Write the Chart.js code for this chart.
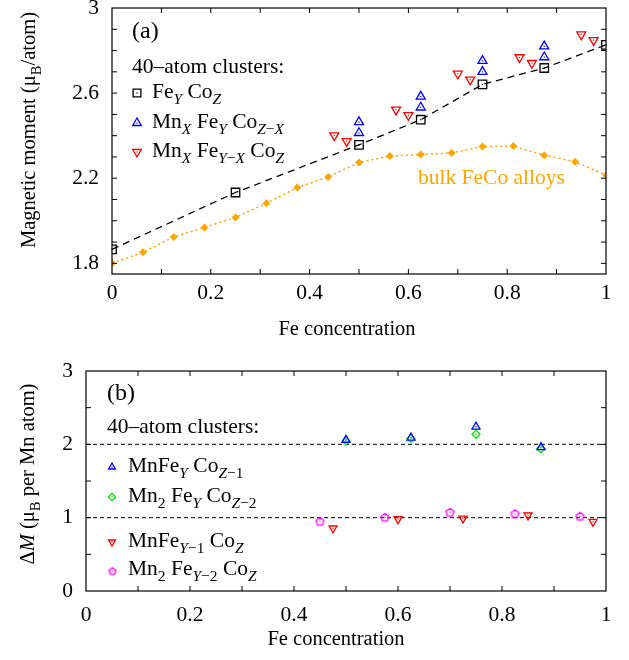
<!DOCTYPE html>
<html>
<head>
<meta charset="utf-8">
<script src="https://cdn.jsdelivr.net/npm/chart.js@4.4.0/dist/chart.umd.min.js"></script>
<style>
body { margin: 0; background: #fff; }
canvas { display: block; }
</style>
</head>
<body>
<canvas id="chartA" width="629" height="345"></canvas>
<canvas id="chartB" width="629" height="315"></canvas>
<script>
// ---- panel (a) data ----
var feCoX = [0, 0.25, 0.5, 0.625, 0.75, 0.875, 1];
var feCoY = [1.866, 2.133, 2.357, 2.475, 2.641, 2.718, 2.827];
var mnFeCoX = [0.5, 0.5, 0.625, 0.625, 0.75, 0.75, 0.875, 0.875];
var mnFeCoY = [2.464, 2.413, 2.584, 2.533, 2.752, 2.700, 2.820, 2.769];
var mnFeSubX = [0.45, 0.475, 0.575, 0.6, 0.7, 0.725, 0.825, 0.85, 0.95, 0.975];
var mnFeSubY = [2.401, 2.374, 2.522, 2.496, 2.691, 2.663, 2.768, 2.741, 2.876, 2.849];
var bulkX = [0, 0.0625, 0.125, 0.1875, 0.25, 0.3125, 0.375, 0.4375, 0.5, 0.5625, 0.625, 0.6875, 0.75, 0.8125, 0.875, 0.9375, 1];
var bulkY = [1.80, 1.852, 1.924, 1.969, 2.016, 2.082, 2.156, 2.206, 2.274, 2.304, 2.311, 2.319, 2.349, 2.351, 2.308, 2.278, 2.214];

// ---- panel (b) data ----
var mn1X = [0.5, 0.625, 0.75, 0.875];
var mn1Y = [2.06, 2.09, 2.24, 1.96];
var mn2X = [0.5, 0.625, 0.75, 0.875];
var mn2Y = [2.045, 2.08, 2.137, 1.94];
var mn1FeX = [0.475, 0.6, 0.725, 0.85, 0.975];
var mn1FeY = [0.855, 0.982, 0.991, 1.032, 0.945];
var mn2FeX = [0.45, 0.575, 0.7, 0.825, 0.95];
var mn2FeY = [0.945, 1.0, 1.068, 1.05, 1.014];
var refLevels = [1, 2];

// ---- ticks ----
var xTickLabels = [0, 0.2, 0.4, 0.6, 0.8, 1];
var xMinorTicks = [0.1, 0.2, 0.3, 0.4, 0.5, 0.6, 0.7, 0.8, 0.9];
var yTicksA = [1.8, 2.2, 2.6, 3];
var yMinorA = [1.8, 1.9, 2.0, 2.1, 2.2, 2.3, 2.4, 2.5, 2.6, 2.7, 2.8, 2.9];
var yTicksB = [0, 1, 2, 3];
var yMinorB = [0.5, 1, 1.5, 2, 2.5];

var FONT = '"Liberation Serif", "Times New Roman", serif';
var TXT = 21.5;

function pts(xs, ys) {
    return xs.map(function(x, i) { return {x: x, y: ys[i]}; });
}

function pentagon(r, color) {
    var c = document.createElement('canvas');
    c.width = c.height = Math.ceil(2 * r + 4);
    var g = c.getContext('2d');
    var cx = c.width / 2, cy = c.height / 2;
    g.strokeStyle = color;
    g.lineWidth = 1.3;
    g.beginPath();
    for (var i = 0; i < 5; i++) {
        var a = -Math.PI / 2 + i * 2 * Math.PI / 5;
        var px = cx + r * Math.cos(a), py = cy + r * Math.sin(a);
        if (i == 0) g.moveTo(px, py); else g.lineTo(px, py);
    }
    g.closePath();
    g.stroke();
    g.fillStyle = color;
    g.fillRect(cx - 0.6, cy - 0.6, 1.2, 1.2);
    return c;
}

// text with subscripts: flags 'i' italic, 's' subscript
function rich(ctx, segs, x, y, size, color, align) {
    var items = segs.map(function(s) {
        var f = s[1] || '';
        var sz = f.indexOf('s') >= 0 ? size * 0.72 : size;
        var font = (f.indexOf('i') >= 0 ? 'italic ' : '') + sz + 'px ' + FONT;
        ctx.font = font;
        return {t: s[0], font: font, dy: f.indexOf('s') >= 0 ? size * 0.28 : 0, w: ctx.measureText(s[0]).width};
    });
    var total = items.reduce(function(a, b) { return a + b.w; }, 0);
    var cx = align == 'center' ? x - total / 2 : x;
    ctx.fillStyle = color;
    ctx.textBaseline = 'alphabetic';
    ctx.textAlign = 'left';
    items.forEach(function(it) {
        ctx.font = it.font;
        ctx.fillText(it.t, cx, y + it.dy);
        cx += it.w;
    });
}

function marker(ctx, style, r, rot, color, x, y) {
    ctx.save();
    ctx.strokeStyle = color;
    ctx.fillStyle = 'rgba(0,0,0,0)';
    ctx.lineWidth = 1.3;
    Chart.helpers.drawPoint(ctx, {pointStyle: style, radius: r, rotation: rot, borderWidth: 1.3}, x, y);
    ctx.fillStyle = color;
    ctx.fillRect(x - 0.6, y - 0.6, 1.2, 1.2);
    ctx.restore();
}

function framePlugin(o) {
    return {
        id: 'frame',
        afterDatasetsDraw: function(chart) {
            var ctx = chart.ctx, a = chart.chartArea;
            var xs = chart.scales.x, ys = chart.scales.y;
            ctx.save();
            // center dots of open markers
            chart.data.datasets.forEach(function(ds, i) {
                if (!ds.dot) return;
                ctx.fillStyle = ds.borderColor;
                chart.getDatasetMeta(i).data.forEach(function(el) {
                    ctx.fillRect(el.x - 0.6, el.y - 0.6, 1.2, 1.2);
                });
            });
            ctx.strokeStyle = '#000';
            ctx.lineWidth = 1.2;
            ctx.strokeRect(a.left, a.top, a.right - a.left, a.bottom - a.top);
            ctx.beginPath();
            o.xTicks.forEach(function(v) {
                var p = xs.getPixelForValue(v);
                ctx.moveTo(p, a.bottom); ctx.lineTo(p, a.bottom - 5);
                ctx.moveTo(p, a.top); ctx.lineTo(p, a.top + 5);
            });
            o.yTicks.forEach(function(v) {
                var p = ys.getPixelForValue(v);
                ctx.moveTo(a.left, p); ctx.lineTo(a.left + 5, p);
                ctx.moveTo(a.right, p); ctx.lineTo(a.right - 5, p);
            });
            ctx.lineWidth = 1;
            ctx.stroke();
            ctx.restore();
            o.draw(ctx, chart);
        }
    };
}

function options(c) {
    return {
        responsive: false,
        animation: false,
        layout: {padding: {left: 0, right: 23, top: c.top, bottom: 0}},
        plugins: {legend: {display: false}, tooltip: {enabled: false}},
        scales: {
            x: {
                type: 'linear', min: 0, max: 1,
                grid: {display: false, drawTicks: false},
                border: {display: false},
                afterBuildTicks: function(s) { s.ticks = xTickLabels.map(function(v) { return {value: v}; }); },
                afterFit: function(s) { s.height = c.xh; s.paddingLeft = 0; s.paddingRight = 0; },
                ticks: {font: {family: FONT, size: 21.5}, color: '#000', padding: c.xpad, maxRotation: 0,
                        callback: function(v) { return String(v); }}
            },
            y: {
                type: 'linear', min: c.ymin, max: c.ymax,
                grid: {display: false, drawTicks: false},
                border: {display: false},
                afterBuildTicks: function(s) { s.ticks = c.yTicks.map(function(v) { return {value: v}; }); },
                afterFit: function(s) { s.width = c.yw; s.paddingTop = 0; s.paddingBottom = 0; },
                ticks: {font: {family: FONT, size: 21.5}, color: '#000', padding: 13,
                        callback: function(v) { return String(v); }}
            }
        }
    };
}

// ---- chart (a) ----
var ctxA = document.getElementById('chartA').getContext('2d');
new Chart(ctxA, {
    type: 'scatter',
    data: {
        datasets: [
            {data: pts(mnFeSubX, mnFeSubY), pointStyle: 'triangle', rotation: 180, pointRadius: 5.2,
             borderColor: '#ff0000', backgroundColor: 'rgba(0,0,0,0)', borderWidth: 1.3, dot: true},
            {data: pts(mnFeCoX, mnFeCoY), pointStyle: 'triangle', pointRadius: 5.2,
             borderColor: '#0000ff', backgroundColor: 'rgba(0,0,0,0)', borderWidth: 1.3, dot: true},
            {data: pts(feCoX, feCoY), pointStyle: 'rect', pointRadius: 6, showLine: true,
             borderColor: '#000000', backgroundColor: 'rgba(0,0,0,0)', borderWidth: 1.3,
             borderDash: [7, 5], dot: true},
            {data: pts(bulkX, bulkY), pointStyle: 'rectRot', pointRadius: 4, showLine: true,
             borderColor: '#ffa500', backgroundColor: '#ffa500', borderWidth: 1.5,
             borderDash: [2, 3], pointBorderWidth: 0}
        ]
    },
    options: options({top: 8, xh: 71, xpad: 6, yw: 112, ymin: 1.75, ymax: 3, yTicks: yTicksA}),
    plugins: [framePlugin({
        xTicks: xMinorTicks, yTicks: yMinorA,
        draw: function(ctx, chart) {
            rich(ctx, [['(a)']], 132, 38, 24, '#000', 'left');
            rich(ctx, [['40–atom clusters:']], 132, 73, TXT, '#000', 'left');
            marker(ctx, 'rect', 5.5, 0, '#000', 137, 93);
            rich(ctx, [['Fe'], ['Y', 'si'], [' Co'], ['Z', 'si']], 152, 98, TXT, '#000', 'left');
            marker(ctx, 'triangle', 5, 0, '#0000ff', 137, 123);
            rich(ctx, [['Mn'], ['X', 'si'], [' Fe'], ['Y', 'si'], [' Co'], ['Z', 'si'], ['−', 's'], ['X', 'si']], 152, 128, TXT, '#000', 'left');
            marker(ctx, 'triangle', 5, 180, '#ff0000', 137, 152);
            rich(ctx, [['Mn'], ['X', 'si'], [' Fe'], ['Y', 'si'], ['−', 's'], ['X', 'si'], [' Co'], ['Z', 'si']], 152, 157, TXT, '#000', 'left');
            rich(ctx, [['bulk FeCo alloys']], 418, 184, TXT, '#ffa500', 'left');
            // axis titles
            rich(ctx, [['Fe concentration']], 347, 335, 20.5, '#000', 'center');
            ctx.save();
            ctx.translate(35, 130);
            ctx.rotate(-Math.PI / 2);
            rich(ctx, [['Magnetic moment (μ'], ['B', 's'], ['/atom)']], 0, 0, 20.5, '#000', 'center');
            ctx.restore();
        }
    })]
});

// ---- chart (b) ----
var penta = pentagon(4.2, '#ff00ff');
var ctxB = document.getElementById('chartB').getContext('2d');
new Chart(ctxB, {
    type: 'scatter',
    data: {
        datasets: [
            {data: pts(mn1X, mn1Y), pointStyle: 'triangle', pointRadius: 4.6,
             borderColor: '#0000ff', backgroundColor: 'rgba(0,0,0,0)', borderWidth: 1.3, dot: true},
            {data: pts(mn2X, mn2Y), pointStyle: 'rectRot', pointRadius: 4,
             borderColor: '#00ee00', backgroundColor: 'rgba(0,0,0,0)', borderWidth: 1.3, dot: true},
            {data: pts(mn1FeX, mn1FeY), pointStyle: 'triangle', rotation: 180, pointRadius: 4.6,
             borderColor: '#ff0000', backgroundColor: 'rgba(0,0,0,0)', borderWidth: 1.3, dot: true},
            {data: pts(mn2FeX, mn2FeY), pointStyle: penta, pointRadius: 4,
             borderColor: '#ff00ff', backgroundColor: 'rgba(0,0,0,0)', borderWidth: 1.3},
            {data: [{x: 0, y: refLevels[1]}, {x: 1, y: refLevels[1]}], showLine: true, pointRadius: 0,
             borderColor: '#000', borderWidth: 1, borderDash: [4, 3]},
            {data: [{x: 0, y: refLevels[0]}, {x: 1, y: refLevels[0]}], showLine: true, pointRadius: 0,
             borderColor: '#000', borderWidth: 1, borderDash: [4, 3]}
        ]
    },
    options: options({top: 26, xh: 69, xpad: 11, yw: 86, ymin: 0, ymax: 3, yTicks: yTicksB}),
    plugins: [framePlugin({
        xTicks: xMinorTicks, yTicks: yMinorB,
        draw: function(ctx, chart) {
            rich(ctx, [['(b)']], 107, 55, 24, '#000', 'left');
            rich(ctx, [['40–atom clusters:']], 107, 88, TXT, '#000', 'left');
            marker(ctx, 'triangle', 4, 0, '#0000ff', 112, 122);
            rich(ctx, [['MnFe'], ['Y', 'si'], [' Co'], ['Z', 'si'], ['−1', 's']], 128, 127, TXT, '#000', 'left');
            marker(ctx, 'rectRot', 3.6, 0, '#00ee00', 112, 152);
            rich(ctx, [['Mn'], ['2', 's'], [' Fe'], ['Y', 'si'], [' Co'], ['Z', 'si'], ['−2', 's']], 128, 157, TXT, '#000', 'left');
            marker(ctx, 'triangle', 4, 180, '#ff0000', 112, 197);
            rich(ctx, [['MnFe'], ['Y', 'si'], ['−1', 's'], [' Co'], ['Z', 'si']], 128, 202, TXT, '#000', 'left');
            ctx.drawImage(pentagon(3.6, '#ff00ff'), 112 - 5.6, 226 - 5.6);
            rich(ctx, [['Mn'], ['2', 's'], [' Fe'], ['Y', 'si'], ['−2', 's'], [' Co'], ['Z', 'si']], 128, 230, TXT, '#000', 'left');
            rich(ctx, [['Fe concentration']], 336, 300, 20.5, '#000', 'center');
            ctx.save();
            ctx.translate(34, 129);
            ctx.rotate(-Math.PI / 2);
            rich(ctx, [['Δ'], ['M', 'i'], [' (μ'], ['B', 's'], [' per Mn atom)']], 0, 0, 20.5, '#000', 'center');
            ctx.restore();
        }
    })]
});
</script>
</body>
</html>
